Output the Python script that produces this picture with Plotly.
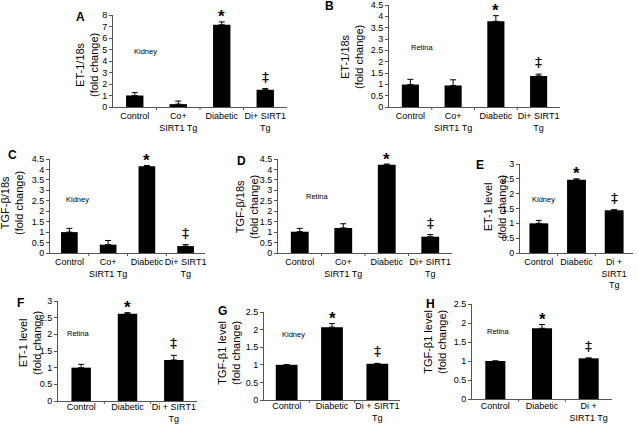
import plotly.graph_objects as go

W, H = 639, 424

cats4 = ["Control", "Co+<br>SIRT1 Tg", "Diabetic", "Di+ SIRT1<br>Tg"]
cats_e = ["Control", "Diabetic", "Di +<br>SIRT1<br>Tg"]
cats_fg = ["Control", "Diabetic", "Di + SIRT1<br>Tg"]
cats_h = ["Control", "Diabetic", "Di +<br>SIRT1 Tg"]

a_vals = [1.0, 0.25, 7.15, 1.5]
a_err = [0.25, 0.27, 0.25, 0.1]
b_vals = [0.99, 0.95, 3.78, 1.37]
b_err = [0.23, 0.25, 0.25, 0.08]
c_vals = [1.0, 0.4, 4.15, 0.33]
c_err = [0.18, 0.2, 0.04, 0.07]
d_vals = [1.02, 1.2, 4.22, 0.78]
d_err = [0.16, 0.2, 0.04, 0.1]
e_vals = [1.0, 2.47, 1.44]
e_err = [0.1, 0.03, 0.02]
f_vals = [1.0, 2.62, 1.23]
f_err = [0.1, 0.03, 0.14]
g_vals = [1.0, 2.07, 1.03]
g_err = [0.0, 0.1, 0.01]
h_vals = [1.0, 1.86, 1.07]
h_err = [0.0, 0.1, 0.01]

panels = [
    # letter, cats, vals, errs, ymax, dtick, title, tissue, marks, xdom px, ydom px, letter pos, title pos, tissue pos, bar width, label standoff
    ("A", cats4, a_vals, a_err, 8, 1, "ET-1/18s<br>(fold change)", "Kidney", ["", "", "*", "‡"],
     (113, 287), (15, 107), (80, 17), (87, 65), (145, 52), 0.4, 0),
    ("B", cats4, b_vals, b_err, 4.5, 0.5, "ET-1/18s<br>(fold change)", "Retina", ["", "", "*", "‡"],
     (389, 560), (5, 107), (329, 6), (352, 57), (422, 47), 0.4, 0),
    ("C", cats4, c_vals, c_err, 4.5, 0.5, "TGF-β/18s<br>(fold change)", "Kidney", ["", "", "*", "‡"],
     (50, 205), (159, 253), (12, 155), (12, 203), (77, 199), 0.43, 0),
    ("D", cats4, d_vals, d_err, 4.5, 0.5, "TGF-β/18s<br>(fold change)", "Retina", ["", "", "*", "‡"],
     (278, 452), (159, 253), (241, 161), (247, 207), (317, 197), 0.41, 0),
    ("E", cats_e, e_vals, e_err, 3, 0.5, "ET-1 level<br>(fold change)", "Kidney", ["", "*", "‡"],
     (520, 633), (164, 253), (480, 165), (495, 207), (543, 199), 0.5, 0),
    ("F", cats_fg, f_vals, f_err, 3, 0.5, "ET-1 level<br>(fold change)", "Retina", ["", "*", "‡"],
     (58, 197), (301, 401), (20, 303), (30, 343), (78, 333), 0.42, -3),
    ("G", cats_fg, g_vals, g_err, 2.5, 0.5, "TGF-β1 level<br>(fold change)", "Kidney", ["", "*", "‡"],
     (264, 400), (312, 400), (222, 311), (229, 353), (293, 334), 0.48, -3),
    ("H", cats_h, h_vals, h_err, 2.5, 0.5, "TGF-β1 level<br>(fold change)", "Retina", ["", "*", "‡"],
     (472, 612), (304, 399), (430, 304), (435, 342), (498, 331), 0.43, -2),
]

fig = go.Figure()
annotations = []
layout = {}
FONT = "Liberation Sans, Arial, sans-serif"

def fx(p):
    return p / W

def fy(p):
    return 1 - p / H

for i, (letter, cats, vals, errs, ymax, dtick, title, tissue, marks, xd, yd, lp, tp, sp, bw, so) in enumerate(panels):
    n = i + 1
    xa = "x" if n == 1 else f"x{n}"
    ya = "y" if n == 1 else f"y{n}"
    xkey = "xaxis" if n == 1 else f"xaxis{n}"
    ykey = "yaxis" if n == 1 else f"yaxis{n}"
    xs = list(range(len(cats)))
    fig.add_trace(go.Bar(
        x=xs, y=vals, xaxis=xa, yaxis=ya, width=bw,
        marker=dict(color="black", line=dict(width=0)),
        error_y=dict(type="data", array=errs, arrayminus=[0] * len(errs), symmetric=False,
                     color="black", thickness=1, width=3),
        showlegend=False, hoverinfo="skip",
    ))
    layout[xkey] = dict(
        domain=[fx(xd[0]), fx(xd[1])], anchor=ya, range=[-0.5, len(cats) - 0.5],
        tickmode="array", tickvals=xs, ticktext=cats, tickangle=0, showline=True, linecolor="#555",
        linewidth=1, ticks="", showgrid=False, zeroline=False, fixedrange=True, automargin=False,
        ticklabelstandoff=so,
        tickfont=dict(family=FONT, size=9, color="black"),
    )
    layout[ykey] = dict(
        domain=[fy(yd[1]), fy(yd[0])], anchor=xa, range=[0, ymax * 1.0001], dtick=dtick,
        showline=True, linecolor="#555", linewidth=1, ticks="outside", ticklen=3,
        tickcolor="#555", showgrid=False, zeroline=False, automargin=False,
        tickfont=dict(family=FONT, size=9, color="black"),
    )
    # boundary tick marks on x axis
    for b in range(1, len(cats)):
        fig.add_shape(type="line", xref=xa, yref="paper", x0=b - 0.5, x1=b - 0.5,
                      y0=fy(yd[1]), y1=fy(yd[1] + 3), line=dict(color="#555", width=1))
    for k, m in enumerate(marks):
        if m:
            star = m == "*"
            annotations.append(dict(
                x=xs[k], y=vals[k] + errs[k], xref=xa, yref=ya, text=f"<b>{m}</b>" if star else m,
                showarrow=False, xanchor="center", yanchor="middle", yshift=(5 if star else 12),
                font=dict(family=FONT if star else "DejaVu Sans", size=17 if star else 14,
                          color="#000000"),
            ))
    common = dict(xref="paper", yref="paper", showarrow=False, xanchor="center", yanchor="middle")
    annotations.append(dict(x=fx(lp[0]), y=fy(lp[1]), text=f"<b>{letter}</b>",
                            font=dict(family=FONT, size=12, color="black"), **common))
    annotations.append(dict(x=fx(tp[0]), y=fy(tp[1]), text=title, textangle=-90,
                            font=dict(family=FONT, size=11, color="black"), **common))
    annotations.append(dict(x=fx(sp[0]), y=fy(sp[1]), text=tissue,
                            font=dict(family=FONT, size=7.5, color="black"), **common))

fig.update_layout(
    width=W, height=H, margin=dict(l=0, r=0, t=0, b=0),
    paper_bgcolor="white", plot_bgcolor="white",
    annotations=annotations, **layout,
)

fig.write_html("out.html", config={"displayModeBar": False},
               post_script="document.body.style.margin='0';document.body.style.overflow='hidden';")
